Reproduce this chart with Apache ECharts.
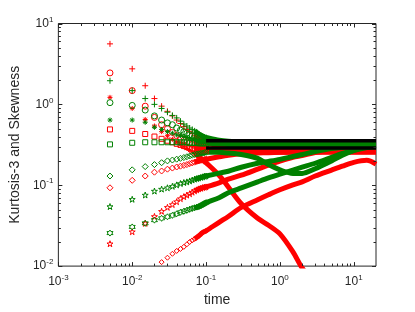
<!DOCTYPE html>
<html><head><meta charset="utf-8">
<script src="https://cdn.jsdelivr.net/npm/echarts@6/dist/echarts.min.js"></script>
<style>html,body{margin:0;padding:0;background:#fff}#c{width:415px;height:312px}</style>
</head><body><div id="c"></div>
<script>
// sample times
const times = [0.005,0.01,0.015,0.02,0.025,0.03,0.035,0.04,0.045,0.05,0.055,0.06,0.065,0.07,0.075,0.08,0.085,0.09,0.095,0.1,0.15,0.2,0.3,0.5,0.7,1,1.5,2,3,5,7,10,15,20];
// red series
const redPlus = [5.6,2.75,1.7,1.18,0.95,0.82,0.72,0.64,0.58,0.53,0.49,0.46,0.435,0.41,0.395,0.38,0.365,0.355,0.345,0.34,0.3,0.29,0.283,0.28,0.28,0.279,0.279,0.278,0.278,0.278,0.278,0.278,0.278,0.278];
const redCirc = [2.45,1.48,0.95,0.69,0.56,0.5,0.45,0.41,0.38,0.36,0.345,0.33,0.32,0.31,0.305,0.3,0.295,0.29,0.287,0.285,0.275,0.272,0.27,0.27,0.27,0.27,0.27,0.27,0.27,0.27,0.27,0.27,0.27,0.27];
const redAst = [1.22,0.89,0.65,0.54,0.46,0.41,0.37,0.34,0.32,0.3,0.285,0.27,0.257,0.245,0.235,0.225,0.215,0.205,0.197,0.19,0.133,0.095,0.059,0.039,0.032,0.025,0.015,0.0095,0.006,0.004,0.003,0.002,0.0015,0.001];
const redSq = [0.49,0.47,0.43,0.4,0.375,0.355,0.34,0.325,0.315,0.305,0.297,0.29,0.285,0.28,0.276,0.272,0.27,0.268,0.266,0.265,0.26,0.258,0.256,0.255,0.255,0.255,0.255,0.255,0.255,0.255,0.255,0.255,0.255,0.255];
const redDia = [0.093,0.115,0.13,0.145,0.15,0.158,0.163,0.168,0.172,0.176,0.18,0.185,0.189,0.193,0.197,0.2,0.203,0.205,0.208,0.21,0.225,0.235,0.245,0.25,0.253,0.255,0.257,0.258,0.26,0.26,0.26,0.26,0.26,0.26];
const redPent = [0.0189,0.0266,0.0338,0.0411,0.0476,0.0533,0.0577,0.0626,0.0683,0.0722,0.0755,0.0785,0.082,0.0852,0.0877,0.0902,0.0918,0.0935,0.0945,0.0953,0.107,0.119,0.133,0.158,0.177,0.198,0.221,0.233,0.254,0.269,0.277,0.277,0.277,0.277];
const redLow = [0.004,0.006,0.008,0.0095,0.0112,0.0127,0.0142,0.0154,0.0163,0.0173,0.0186,0.0199,0.0208,0.0217,0.0227,0.0237,0.0249,0.026,0.0267,0.0273,0.0348,0.0411,0.0533,0.0662,0.0762,0.0878,0.101,0.11,0.13,0.154,0.172,0.192,0.203,0.182];
// green series
const greenPlus = [1.96,1.48,1.18,1.0,0.89,0.8,0.73,0.68,0.62,0.57,0.54,0.51,0.49,0.47,0.45,0.43,0.415,0.405,0.395,0.39,0.36,0.35,0.345,0.345,0.345,0.345,0.345,0.345,0.345,0.345,0.345,0.345,0.345,0.345];
const greenCirc = [1.05,0.97,0.85,0.72,0.64,0.59,0.56,0.51,0.48,0.46,0.44,0.42,0.41,0.4,0.39,0.38,0.372,0.365,0.36,0.355,0.34,0.335,0.33,0.33,0.33,0.33,0.33,0.33,0.33,0.33,0.33,0.33,0.33,0.33];
const greenAst = [0.64,0.64,0.6,0.52,0.49,0.46,0.44,0.42,0.41,0.4,0.39,0.38,0.372,0.365,0.36,0.355,0.352,0.349,0.347,0.345,0.335,0.33,0.325,0.325,0.325,0.325,0.325,0.325,0.325,0.325,0.325,0.325,0.325,0.325];
const greenSq = [0.32,0.335,0.34,0.34,0.34,0.34,0.34,0.34,0.34,0.34,0.338,0.335,0.335,0.335,0.333,0.33,0.33,0.33,0.33,0.33,0.325,0.32,0.32,0.32,0.32,0.32,0.32,0.32,0.32,0.32,0.32,0.32,0.32,0.32];
const greenDia = [0.13,0.155,0.17,0.18,0.19,0.2,0.205,0.21,0.215,0.22,0.225,0.23,0.235,0.24,0.243,0.245,0.248,0.25,0.253,0.255,0.255,0.25,0.24,0.215,0.18,0.155,0.14,0.14,0.16,0.2,0.235,0.27,0.3,0.31];
const greenPent = [0.0545,0.067,0.0757,0.0847,0.0896,0.093,0.097,0.101,0.105,0.108,0.11,0.113,0.116,0.119,0.121,0.123,0.125,0.127,0.129,0.13,0.141,0.149,0.167,0.187,0.197,0.209,0.227,0.24,0.261,0.284,0.292,0.3,0.309,0.309];
const greenHex = [0.0256,0.0305,0.0338,0.037,0.039,0.0407,0.0424,0.0443,0.0463,0.0476,0.049,0.0505,0.0516,0.0527,0.0536,0.0545,0.056,0.0576,0.0593,0.0609,0.07,0.0806,0.0926,0.11,0.123,0.137,0.154,0.167,0.187,0.221,0.247,0.269,0.292,0.3];
// black reference lines
const blackTimes = [0.1, 20];
const blackHigh = [0.355, 0.355];
const blackLow = [0.288, 0.288];
// ticks
const xMajorTicks = [0.001,0.01,0.1,1,10];
const xMinorTicks = [0.002,0.003,0.004,0.005,0.006,0.007,0.008,0.009,0.02,0.03,0.04,0.05,0.06,0.07,0.08,0.09,0.2,0.3,0.4,0.5,0.6,0.7,0.8,0.9,2,3,4,5,6,7,8,9];
const yMajorTicks = [0.01,0.1,1,10];
const yMinorTicks = [0.02,0.03,0.04,0.05,0.06,0.07,0.08,0.09,0.2,0.3,0.4,0.5,0.6,0.7,0.8,0.9,2,3,4,5,6,7,8,9];

const X_MIN = 0.001, X_MAX = 20, Y_MIN = 0.01, Y_MAX = 10;
const RED = '#ff0000', GREEN = '#008000', AX = '#262626';
const SYM = {
  plus: 'path://M0,-1L0,1M-1,0L1,0',
  ast: 'path://M0,-1L0,1M-1,0L1,0M-0.7,-0.7L0.7,0.7M-0.7,0.7L0.7,-0.7',
  circ: 'circle',
  sq: 'rect',
  dia: 'diamond',
  pent: 'path://M0,-1L0.2245,-0.309L0.951,-0.309L0.363,0.118L0.588,0.809L0,0.382L-0.588,0.809L-0.363,0.118L-0.951,-0.309L-0.2245,-0.309Z',
  hex: 'path://M0,-1L0.2887,-0.5L0.866,-0.5L0.577,0L0.866,0.5L0.2887,0.5L0,1L-0.2887,0.5L-0.866,0.5L-0.577,0L-0.866,-0.5L-0.2887,-0.5Z'
};
const MARK_END = 20;   // markers drawn for times[0..19]
const BAND_START = 13; // dense markers merge into a band from times[13]
const series = [];
function addCurve(vals, color, sym, size) {
  series.push({
    type: 'scatter', silent: true, clip: true, z: 2,
    data: times.slice(0, MARK_END).map((t, i) => [t, vals[i]]),
    symbol: SYM[sym], symbolSize: size,
    itemStyle: { color: 'rgba(0,0,0,0)', borderColor: color, borderWidth: 1, opacity: 1 }
  });
  series.push({
    type: 'line', silent: true, clip: true, z: 2, showSymbol: false, smooth: 0.3,
    data: times.slice(BAND_START).map((t, i) => [t, vals[i + BAND_START]]),
    lineStyle: { color: color, width: 5 }
  });
}
addCurve(redLow, RED, 'dia', 5);
addCurve(redAst, RED, 'ast', 5);
addCurve(redPent, RED, 'pent', 6);
addCurve(redDia, RED, 'dia', 6);
addCurve(redSq, RED, 'sq', 5);
addCurve(redCirc, RED, 'circ', 6);
addCurve(redPlus, RED, 'plus', 6);
addCurve(greenHex, GREEN, 'hex', 6);
addCurve(greenPent, GREEN, 'pent', 6);
addCurve(greenDia, GREEN, 'dia', 6);
addCurve(greenSq, GREEN, 'sq', 5);
addCurve(greenAst, GREEN, 'ast', 5);
addCurve(greenCirc, GREEN, 'circ', 6);
addCurve(greenPlus, GREEN, 'plus', 6);
[blackHigh, blackLow].forEach(v => series.push({
  type: 'line', silent: true, z: 3, showSymbol: false,
  data: blackTimes.map((t, i) => [t, v[i]]),
  lineStyle: { color: '#000', width: 3.5 }
}));
function xTickSeries(vals, len) {
  return { type: 'custom', coordinateSystem: 'cartesian2d', silent: true, clip: false, z: 10,
    data: vals.map(v => [v, Y_MIN]),
    renderItem: (p, api) => {
      const a = api.coord([api.value(0), Y_MIN]), b = api.coord([api.value(0), Y_MAX]);
      const x = Math.round(a[0]) + 0.5;
      return { type: 'group', children: [
        { type: 'line', shape: { x1: x, y1: a[1], x2: x, y2: a[1] - len }, style: { stroke: AX, lineWidth: 1 } },
        { type: 'line', shape: { x1: x, y1: b[1], x2: x, y2: b[1] + len }, style: { stroke: AX, lineWidth: 1 } }
      ]};
    } };
}
function yTickSeries(vals, len) {
  return { type: 'custom', coordinateSystem: 'cartesian2d', silent: true, clip: false, z: 10,
    data: vals.map(v => [X_MIN, v]),
    renderItem: (p, api) => {
      const a = api.coord([X_MIN, api.value(1)]), b = api.coord([X_MAX, api.value(1)]);
      const y = Math.round(a[1]) + 0.5;
      return { type: 'group', children: [
        { type: 'line', shape: { x1: a[0], y1: y, x2: a[0] + len, y2: y }, style: { stroke: AX, lineWidth: 1 } },
        { type: 'line', shape: { x1: b[0], y1: y, x2: b[0] - len, y2: y }, style: { stroke: AX, lineWidth: 1 } }
      ]};
    } };
}
series.push(xTickSeries(xMajorTicks, 4), xTickSeries(xMinorTicks, 2.5), yTickSeries(yMajorTicks, 4), yTickSeries(yMinorTicks, 2.5));

function powLabel(v) {
  const l = Math.log10(v), e = Math.round(l);
  if (Math.abs(l - e) > 1e-6) return '';
  return '{b|10}{s|' + e + '}';
}
const rich = {
  b: { fontSize: 12, fontFamily: 'Liberation Sans', color: AX },
  s: { fontSize: 8, fontFamily: 'Liberation Sans', color: AX, padding: [0, 0, 8, 0] }
};
const chart = echarts.init(document.getElementById('c'), null, { renderer: 'canvas' });
chart.setOption({
  animation: false,
  backgroundColor: '#fff',
  grid: { left: 54, right: 39, top: 23.5, bottom: 41.5, show: true, borderColor: AX, borderWidth: 1, backgroundColor: 'transparent' },
  xAxis: { type: 'log', logBase: 10, min: X_MIN, max: X_MAX,
    axisLine: { show: false }, axisTick: { show: false }, splitLine: { show: false }, minorTick: { show: false },
    axisLabel: { formatter: powLabel, rich: rich, margin: 8, showMaxLabel: false },
    name: 'time', nameLocation: 'middle', nameGap: 25,
    nameTextStyle: { fontSize: 14, fontFamily: 'Liberation Sans', color: AX } },
  yAxis: { type: 'log', logBase: 10, min: Y_MIN, max: Y_MAX,
    axisLine: { show: false }, axisTick: { show: false }, splitLine: { show: false }, minorTick: { show: false },
    axisLabel: { formatter: powLabel, rich: rich, margin: 5 },
    name: 'Kurtosis-3 and Skewness', nameLocation: 'middle', nameGap: 20,
    nameTextStyle: { fontSize: 14, fontFamily: 'Liberation Sans', color: AX } },
  series: series
});
</script></body></html>
